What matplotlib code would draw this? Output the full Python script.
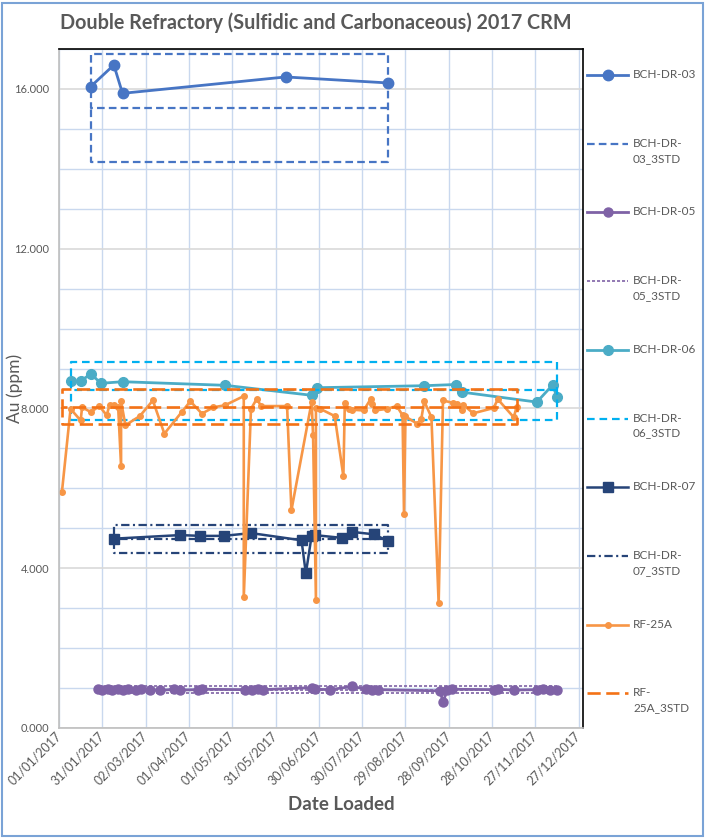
import matplotlib
matplotlib.use("Agg")
import matplotlib.pyplot as plt
import matplotlib.dates as mdates
import pandas as pd
from matplotlib.ticker import MultipleLocator, FormatStrFormatter
from matplotlib.patches import Rectangle
from matplotlib.lines import Line2D

plt.rcParams["font.family"] = ["Lato", "DejaVu Sans"]
plt.rcParams["lines.scale_dashes"] = False

START = pd.Timestamp("2017-01-01")
GREY = "#595959"

# days after 01/01/2017 and Au (ppm)
dr03_day = [22, 38, 44, 157, 228]
dr03_au = [16.06, 16.60, 15.89, 16.30, 16.15]

dr05_day = [27, 30, 34, 37, 41, 44, 48, 53, 57, 63, 70, 80, 84, 96, 99, 129, 134, 138, 141,
            175, 177, 188, 203, 213, 217, 221, 264, 266, 269, 272, 301, 304, 315, 331, 335, 340, 345]
dr05_au = [0.97, 0.96, 0.98, 0.95, 0.97, 0.96, 0.98, 0.95, 0.97, 0.96, 0.94, 0.97, 0.95, 0.96, 0.97,
           0.96, 0.95, 0.97, 0.96, 1.01, 0.97, 0.96, 1.04, 0.97, 0.95, 0.96, 0.93, 0.65, 0.95, 0.97,
           0.96, 0.97, 0.95, 0.96, 0.97, 0.95, 0.96]

dr06_day = [8, 15, 22, 29, 44, 115, 175, 179, 253, 275, 279, 331, 342, 345]
dr06_au = [8.69, 8.68, 8.87, 8.63, 8.67, 8.58, 8.33, 8.52, 8.57, 8.60, 8.41, 8.16, 8.59, 8.28]

dr07_day = [38, 84, 98, 114, 133, 168, 171, 175, 177, 196, 203, 218, 228]
dr07_au = [4.74, 4.83, 4.81, 4.81, 4.88, 4.70, 3.87, 4.81, 4.83, 4.76, 4.91, 4.85, 4.68]

rf25a_day = [2, 8, 15, 16, 22, 28, 33, 35, 38, 41, 43, 43, 46, 56, 65, 73, 85, 91, 99, 107,
             115, 128, 128, 133, 137, 140, 158, 161, 175, 176, 178, 178, 181, 191, 197, 198,
             201, 203, 211, 216, 217, 219, 227, 234, 238, 239, 240, 248, 251, 253, 258, 263,
             266, 273, 276, 279, 280, 287, 301, 304, 315, 317]
rf25a_au = [5.90, 7.99, 7.70, 8.03, 7.91, 8.06, 7.83, 8.08, 8.09, 8.03, 6.55, 8.18, 7.58, 7.81,
            8.20, 7.37, 7.91, 8.18, 7.87, 8.03, 8.08, 8.31, 3.27, 7.99, 8.24, 8.06, 8.06, 5.45,
            8.16, 7.34, 3.20, 8.00, 7.99, 7.81, 6.30, 8.14, 7.99, 7.97, 7.95, 8.24, 8.10, 7.95,
            7.99, 8.06, 7.83, 5.35, 7.80, 7.62, 7.74, 8.18, 7.78, 3.12, 8.20, 8.14, 8.11, 7.95,
            8.09, 7.88, 8.01, 8.23, 7.78, 8.03]

# 3STD boxes: first / last day, and lower, centre, upper limit
dr03_std_day = [22, 228]
dr03_std_lim = [14.18, 15.53, 16.88]
dr05_std_day = [27, 346]
dr05_std_lim = [0.87, 0.96, 1.05]
dr06_std_day = [8, 345]
dr06_std_lim = [7.71, 8.45, 9.17]
dr07_std_day = [38, 228]
dr07_std_lim = [4.39, 4.73, 5.07]
rf25a_std_day = [2, 317]
rf25a_std_lim = [7.62, 8.04, 8.48]

tick_days = list(range(0, 361, 30))


def to_dates(days):
    return START + pd.to_timedelta(days, unit="D")


def std_box(days, lims):
    # closed rectangle plus its centre line, drawn as one path
    d0, d1 = days
    lo, mid, hi = lims
    return to_dates([d1, d0, d0, d1, d1, d0, d0]), [mid, mid, hi, hi, lo, lo, mid]


series = [
    ("BCH-DR-03", to_dates(dr03_day), dr03_au,
     dict(color="#4775C4", lw=2.0, marker="o", ms=7.5)),
    ("BCH-DR-03_3STD", *std_box(dr03_std_day, dr03_std_lim),
     dict(color="#4775C4", lw=1.6, ls=(0, (5.5, 3)))),
    ("BCH-DR-05", to_dates(dr05_day), dr05_au,
     dict(color="#7F62A6", lw=2.0, marker="o", ms=6.5)),
    ("BCH-DR-05_3STD", *std_box(dr05_std_day, dr05_std_lim),
     dict(color="#7F62A6", lw=1.2, ls=(0, (2.2, 1.4)))),
    ("BCH-DR-06", to_dates(dr06_day), dr06_au,
     dict(color="#4BACC6", lw=2.0, marker="o", ms=7)),
    ("BCH-DR-06_3STD", *std_box(dr06_std_day, dr06_std_lim),
     dict(color="#00B0F0", lw=1.6, ls=(0, (5.5, 3.5)))),
    ("BCH-DR-07", to_dates(dr07_day), dr07_au,
     dict(color="#264478", lw=1.8, marker="s", ms=6.5)),
    ("BCH-DR-07_3STD", *std_box(dr07_std_day, dr07_std_lim),
     dict(color="#264478", lw=1.6, ls=(0, (6, 2.5, 1.5, 2.5)))),
    ("RF-25A", to_dates(rf25a_day), rf25a_au,
     dict(color="#F79646", lw=1.9, marker="o", ms=4)),
    ("RF-25A_3STD", *std_box(rf25a_std_day, rf25a_std_lim),
     dict(color="#F47216", lw=1.9, ls=(0, (9.5, 4)))),
]

W, H = 706, 840
fig = plt.figure(figsize=(W / 100, H / 100), dpi=100)
ax = fig.add_axes([59 / W, 112 / H, 524 / W, 679 / H])

for name, x, y, style in series:
    ax.plot(x, y, **style)

ax.set_xlim(START, to_dates(363))
ax.set_ylim(0, 17)
ax.set_xticks(to_dates(tick_days))
ax.xaxis.set_major_formatter(mdates.DateFormatter("%d/%m/%Y"))
ax.yaxis.set_major_locator(MultipleLocator(4))
ax.yaxis.set_minor_locator(MultipleLocator(1))
ax.yaxis.set_major_formatter(FormatStrFormatter("%.3f"))
ax.set_axisbelow(True)
ax.grid(which="major", axis="y", color="#D9D9D9", lw=1.2)
ax.grid(which="minor", axis="y", color="#C9D8EE", lw=1.0)
ax.grid(which="major", axis="x", color="#C9D8EE", lw=1.0)
ax.tick_params(which="both", length=0, colors=GREY)
ax.tick_params(axis="y", labelsize=8, pad=7)
ax.tick_params(axis="x", labelsize=9, pad=4)
for lbl in ax.get_xticklabels():
    lbl.set_rotation(45)
    lbl.set_ha("right")
    lbl.set_va("center")
    lbl.set_rotation_mode("anchor")
for side in ["top", "right"]:
    ax.spines[side].set_color("black")
    ax.spines[side].set_linewidth(1.2)
for side in ["left", "bottom"]:
    ax.spines[side].set_color("#BFBFBF")
    ax.spines[side].set_linewidth(1.2)

fig.text(60 / W, 1 - 23 / H, "Double Refractory (Sulfidic and Carbonaceous) 2017 CRM",
         ha="left", va="center", fontsize=14.2, fontweight="bold", color=GREY)
fig.text(15 / W, 1 - 388 / H, "Au (ppm)", rotation=90, ha="center", va="center",
         fontsize=12.5, color=GREY)
fig.text(341 / W, 1 - 805 / H, "Date Loaded", ha="center", va="center",
         fontsize=13.5, fontweight="bold", color=GREY)

# legend on the right, one entry every ~69 px
for i, (name, x, y, style) in enumerate(series):
    ly = 1 - (75 + i * 68.7) / H
    fig.add_artist(Line2D([587 / W, 607.5 / W, 628 / W], [ly, ly, ly],
                          transform=fig.transFigure, markevery=[1], **style))
    if name.endswith("_3STD"):
        label = name.replace("-0", "-\n0").replace("-25A_", "-\n25A_")
    else:
        label = name
    fig.text(633 / W, ly + 6 / H, label, ha="left", va="top", fontsize=8.5,
             color=GREY, linespacing=1.45)

fig.add_artist(Rectangle((2 / W, 4 / H), 701 / W, 833 / H, transform=fig.transFigure,
                         fill=False, ec="#7AA3D6", lw=1.5))

fig.savefig("out.png", dpi=100)
